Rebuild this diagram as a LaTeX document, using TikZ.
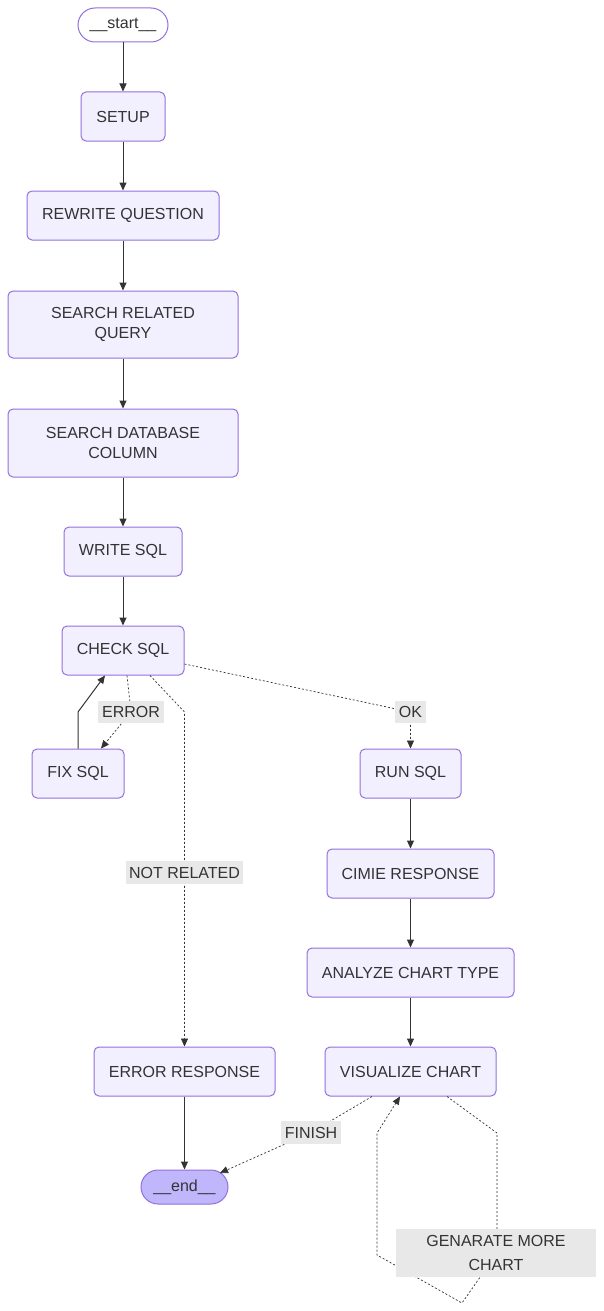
\documentclass[tikz,border=0pt]{standalone}
\usepackage{fontspec}
\setmainfont{Liberation Sans}
\usetikzlibrary{arrows.meta}
\definecolor{nodefill}{HTML}{F2F0FF}
\definecolor{nodeline}{HTML}{9370DB}
\definecolor{endfill}{HTML}{BFB6FC}
\definecolor{lblfill}{HTML}{E8E8E8}
\definecolor{ink}{HTML}{333333}
\begin{document}
\begin{tikzpicture}[x=1pt,y=-1pt,
  box/.style={draw=nodeline, fill=nodefill, line width=1pt, rounded corners=5pt, inner sep=0pt, align=center, text=ink, font=\fontsize{16}{19.2}\selectfont},
  term/.style={box, rounded corners=17pt, minimum height=34pt},
  lbl/.style={fill=lblfill, inner sep=0pt, text=ink, align=center, font=\fontsize{16}{19.2}\selectfont},
  sedge/.style={draw=ink, line width=1pt, -{Triangle[length=8pt,width=7pt]}},
  dedge/.style={draw=ink, line width=0.7pt, dash pattern=on 2pt off 2pt, -{Triangle[length=8pt,width=7pt]}},
]
\useasboundingbox[fill=white] (0,0) rectangle (604,1311);
% nodes
\node[term, fill=white, minimum width=90pt] (start) at (123,25) {\_\_start\_\_};
\node[box, minimum width=84pt, minimum height=49pt] (setup) at (123,116.5) {SETUP};
\node[box, minimum width=192pt, minimum height=49pt] (rewrite) at (123,215.5) {REWRITE QUESTION};
\node[box, minimum width=230pt, minimum height=67pt] (srq) at (123,324.5) {SEARCH RELATED\\QUERY};
\node[box, minimum width=230pt, minimum height=68pt] (sdc) at (123,443) {SEARCH DATABASE\\COLUMN};
\node[box, minimum width=118pt, minimum height=49pt] (write) at (123,551.5) {WRITE SQL};
\node[box, minimum width=122pt, minimum height=49pt] (check) at (123,650.5) {CHECK SQL};
\node[box, minimum width=92pt, minimum height=49pt] (fix) at (78,773.5) {FIX SQL};
\node[box, minimum width=101pt, minimum height=49pt] (run) at (410.5,773.5) {RUN SQL};
\node[box, minimum width=167pt, minimum height=49pt] (cimie) at (410.5,873.5) {CIMIE RESPONSE};
\node[box, minimum width=207pt, minimum height=49pt] (analyze) at (410.5,972.5) {ANALYZE CHART TYPE};
\node[box, minimum width=171pt, minimum height=49pt] (vis) at (410.5,1071.5) {VISUALIZE CHART};
\node[box, minimum width=181pt, minimum height=49pt] (errresp) at (184.5,1071.5) {ERROR RESPONSE};
\node[term, fill=endfill, minimum width=87pt] (endn) at (184.5,1187) {\_\_end\_\_};
% edges
\draw[sedge] (start.south) -- (setup.north);
\draw[sedge] (setup.south) -- (rewrite.north);
\draw[sedge] (rewrite.south) -- (srq.north);
\draw[sedge] (srq.south) -- (sdc.north);
\draw[sedge] (sdc.south) -- (write.north);
\draw[sedge] (write.south) -- (check.north);
\draw[dedge] ([xshift=4pt]check.south) -- (131,712) -- ([xshift=23pt]fix.north);
\draw[sedge] (fix.north) -- (78,712) -- ([xshift=-18pt]check.south);
\draw[dedge] ([xshift=27pt]check.south) -- (184.5,712) -- (errresp.north);
\draw[dedge] ([yshift=-13.5pt]check.east) -- (410.5,712) -- (run.north);
\draw[sedge] (run.south) -- (cimie.north);
\draw[sedge] (cimie.south) -- (analyze.north);
\draw[sedge] (analyze.south) -- (vis.north);
\draw[sedge] (errresp.south) -- (endn.north);
\draw[dedge] ([xshift=-38.5pt]vis.south) -- (311,1132.5) -- ([xshift=35.5pt,yshift=14pt]endn.center);
\draw[dedge] ([xshift=36.5pt]vis.south) -- (497,1133) -- (497,1253) -- (462,1303) -- (377,1255) -- (377,1133) -- ([xshift=-10.5pt]vis.south);
% labels
\node[lbl, minimum width=66pt, minimum height=22pt] (errlbl) at (131,712) {ERROR};
\node[lbl, minimum width=31pt, minimum height=22pt] (oklbl) at (410.5,712) {OK};
\node[lbl, minimum width=117pt, minimum height=23pt] (nrlbl) at (184.5,872.5) {NOT RELATED};
\node[lbl, minimum width=60pt, minimum height=23pt] (finlbl) at (311,1132.5) {FINISH};
\node[lbl, minimum width=200pt, minimum height=48pt, font=\fontsize{16}{24}\selectfont] (genlbl) at (496,1253) {GENARATE MORE\\CHART};
\end{tikzpicture}
\end{document}
